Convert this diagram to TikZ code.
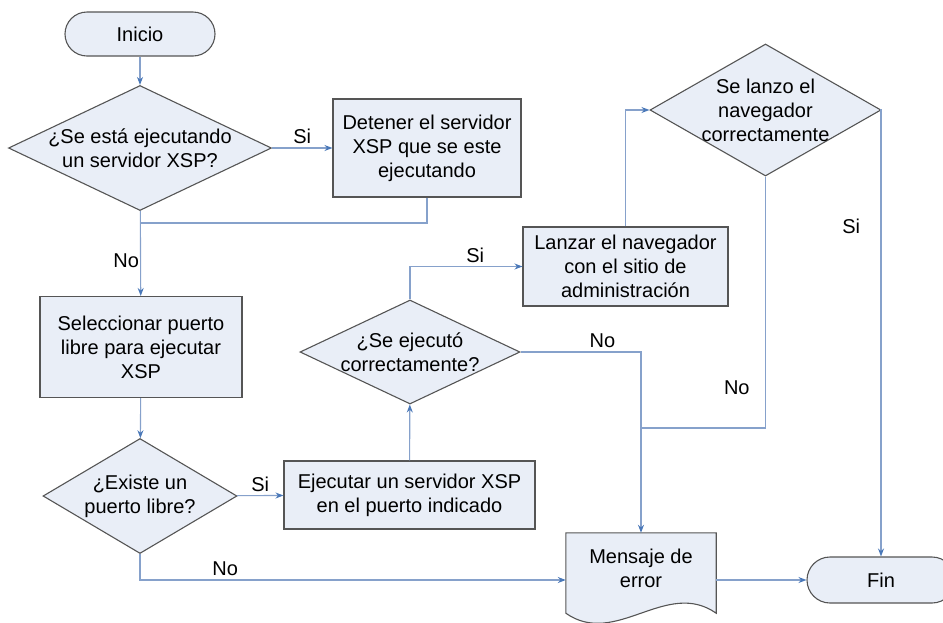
\documentclass[tikz,border=0pt]{standalone}
\usepackage{fontspec}
\setmainfont{Liberation Sans}
\usetikzlibrary{shapes.geometric,arrows.meta}
\definecolor{boxfill}{HTML}{E9EEF7}
\definecolor{boxline}{HTML}{555555}
\definecolor{flowline}{HTML}{86A1CB}
\definecolor{flowtip}{HTML}{4A78B8}

\begin{document}
\begin{tikzpicture}[x=1pt, y=-1pt,
    every node/.style={font=\fontsize{20}{24}\selectfont},
    term/.style={draw=boxline, fill=boxfill, line width=1.1pt, rounded corners=22pt, minimum height=44pt},
    proc/.style={draw=boxline, fill=boxfill, line width=1.1pt, align=center, inner sep=0pt},
    decision/.style={diamond, draw=boxline, fill=boxfill, line width=1.1pt, inner sep=0pt},
    flow/.style={draw=flowline, line width=1.1pt},
    arr/.style={flow, -{Stealth[length=8pt, width=6pt, color=flowtip]}}]
    \useasboundingbox (0,0) rectangle (943,622);

    % left column
    \node[term, minimum width=150pt] (start) at (140,34) {Inicio};
    \node[decision, minimum width=263pt, minimum height=125pt,
        label={[align=center]center:{¿Se está ejecutando\\un servidor XSP?}}] (q1) at (140,148) {};
    \node[proc, minimum width=188pt, minimum height=98pt] (stop) at (427,148) {Detener el servidor\\XSP que se este\\ejecutando};
    \node[proc, minimum width=202pt, minimum height=101pt] (sel) at (141,347) {Seleccionar puerto\\libre para ejecutar\\XSP};
    \node[decision, minimum width=194pt, minimum height=115pt,
        label={[align=center]center:{¿Existe un\\puerto libre?}}] (q3) at (140,496) {};

    % middle
    \node[proc, minimum width=251pt, minimum height=68pt] (run) at (409.5,495) {Ejecutar un servidor XSP\\en el puerto indicado};
    \node[decision, minimum width=220pt, minimum height=104pt,
        label={[align=center]center:{¿Se ejecutó\\correctamente?}}] (q2) at (410,352) {};
    \node[proc, minimum width=205pt, minimum height=79pt] (launch) at (625.5,266.5) {Lanzar el navegador\\con el sitio de\\administración};
    \node[decision, minimum width=231pt, minimum height=132pt,
        label={[align=center]center:{Se lanzo el\\navegador\\correctamente}}] (q4) at (765.5,110) {};

    % error message and end
    \node[minimum width=150pt, minimum height=70pt] (msg) at (641,568) {};
    \draw[draw=boxline, fill=boxfill, line width=1.1pt] (msg.north west) -- (msg.north east)
        -- ([yshift=-10pt]msg.south east) .. controls +(-50,-35) and +(50,35) .. ([yshift=-10pt]msg.south west) -- cycle;
    \node[align=center] (msgtext) at (msg) {Mensaje de\\error};
    \node[term, minimum width=148pt, minimum height=46pt, rounded corners=23pt] (fin) at (881,580) {Fin};

    \coordinate (j1) at (140,223);
    \coordinate (j2) at (642,428);

    % connectors
    \draw[arr] (start) -- (q1);
    \draw[arr] (q1) -- node[above] {Si} (stop);
    \draw[flow] (stop) |- (j1);
    \draw[arr] (q1) -- node[left, pos=0.59, inner sep=1pt] {No} (sel);
    \draw[arr] (sel) -- (q3);
    \draw[arr] (q3) -- node[above] {Si} (run);
    \draw[arr] (q3) |- node[above, pos=0.6] {No} (msg.west |- fin.west);
    \draw[arr] (run) -- (q2);
    \draw[arr] (q2) |- node[above, pos=0.79] {Si} (launch);
    \draw[arr] (launch) |- (q4);
    \draw[flow] (q4) |- node[left=12pt, pos=0.42] {No} (j2);
    \draw[arr] (q2) -| node[above, pos=0.34] {No} (msg);
    \draw[arr] (q4) -| node[left=17pt, pos=0.63] {Si} (fin);
    \draw[arr] (msg.east |- fin.west) -- (fin);
\end{tikzpicture}
\end{document}
